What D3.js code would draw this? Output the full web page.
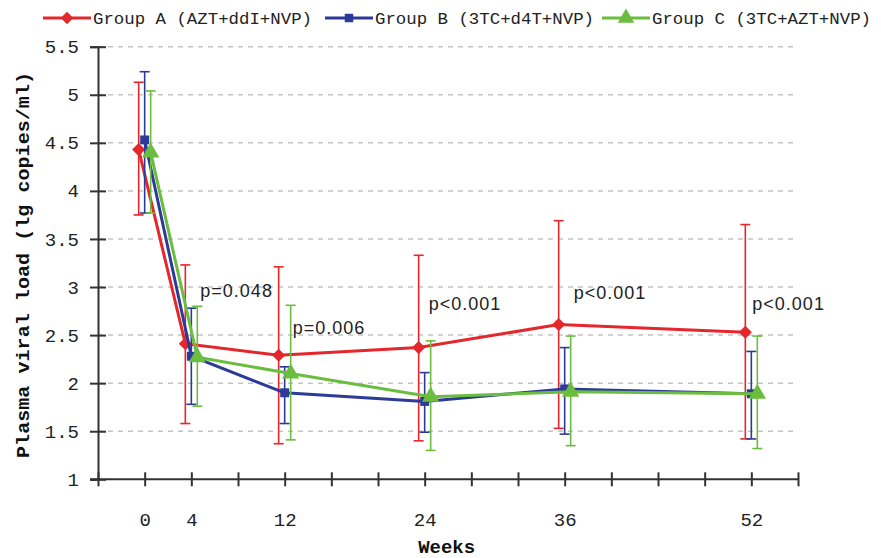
<!DOCTYPE html>
<html>
<head>
<meta charset="utf-8">
<script src="https://cdn.jsdelivr.net/npm/d3@7"></script>
<style>
  body { margin: 0; background: #fff; }
  svg { display: block; }
  .mono { font-family: "Liberation Mono", "DejaVu Sans Mono", monospace; }
</style>
</head>
<body>
<svg id="chart" width="881" height="558"></svg>
<script>
'use strict';

// weeks of follow-up
const weeks = [0, 4, 12, 24, 36, 52];
const weekLabels = [0, 4, 12, 24, 36, 52];

// group means and error bar ends (lg copies/ml)
const groupAMean = [4.43, 2.41, 2.29, 2.37, 2.61, 2.53];
const groupAHigh = [5.13, 3.23, 3.21, 3.33, 3.69, 3.65];
const groupALow  = [3.75, 1.58, 1.37, 1.40, 1.53, 1.42];

const groupBMean = [4.53, 2.28, 1.90, 1.81, 1.94, 1.89];
const groupBHigh = [5.24, 2.78, 2.17, 2.11, 2.37, 2.33];
const groupBLow  = [3.77, 1.78, 1.58, 1.49, 1.47, 1.42];

const groupCMean = [4.40, 2.27, 2.10, 1.86, 1.91, 1.89];
const groupCHigh = [5.04, 2.80, 2.81, 2.44, 2.49, 2.49];
const groupCLow  = [3.77, 1.76, 1.41, 1.30, 1.35, 1.32];

const groupNames = ["Group A (AZT+ddI+NVP)", "Group B (3TC+d4T+NVP)", "Group C (3TC+AZT+NVP)"];

// p values shown above each time point
const pWeeks  = [4, 12, 24, 36, 52];
const pLabels = ["p=0.048", "p=0.006", "p<0.001", "p<0.001", "p<0.001"];
const pLevels = [2.90, 2.51, 2.76, 2.88, 2.76];

const yTicks = [1, 1.5, 2, 2.5, 3, 3.5, 4, 4.5, 5, 5.5];

const svg = d3.select("#chart");

const x = d3.scaleLinear().domain([-4, 56]).range([98, 798]);
const y = d3.scaleLinear().domain([1, 5.5]).range([479.3, 46.7]);

const series = [
    {name: groupNames[0], mean: groupAMean, hi: groupAHigh, lo: groupALow, color: "#e5262b", shift: -6, marker: d3.symbolDiamond2, msize: 110},
    {name: groupNames[1], mean: groupBMean, hi: groupBHigh, lo: groupBLow, color: "#2c3b98", shift: 0, marker: d3.symbolSquare, msize: 80},
    {name: groupNames[2], mean: groupCMean, hi: groupCHigh, lo: groupCLow, color: "#6bbd3f", shift: 6, marker: d3.symbolTriangle, msize: 130}
];

// dashed grid
svg.append("g")
    .selectAll("line")
    .data(yTicks.filter(d => d > 1))
    .enter().append("line")
    .attr("x1", x(-4)).attr("x2", x(56))
    .attr("y1", d => y(d)).attr("y2", d => y(d))
    .attr("stroke", "#c4c4c4")
    .attr("stroke-width", 1.5)
    .attr("stroke-dasharray", "5,5");

// y axis
const yAxis = svg.append("g")
    .attr("transform", "translate(" + x(-4) + ",0)")
    .call(d3.axisLeft(y).tickValues(yTicks).tickSize(8).tickPadding(12)
        .tickFormat(d => d3.format("~g")(d)));
yAxis.select(".domain").attr("stroke", "#333").attr("stroke-width", 2);
yAxis.selectAll(".tick line").attr("x1", -8).attr("x2", 8).attr("stroke", "#333").attr("stroke-width", 2);
yAxis.selectAll(".tick text")
    .attr("class", "mono")
    .attr("x", -19)
    .style("font-size", "19px")
    .attr("fill", "#222");

// x axis, a tick every 4 weeks, labels only at the visits
const xAxis = svg.append("g")
    .attr("transform", "translate(0," + y(1) + ")")
    .call(d3.axisBottom(x).tickValues(d3.range(-4, 57, 4)).tickSize(7).tickPadding(0)
        .tickFormat(d => weekLabels.includes(d) ? d : ""));
xAxis.select(".domain").attr("d", "M90,0H" + x(56)).attr("stroke", "#333").attr("stroke-width", 2);
xAxis.selectAll(".tick line").attr("y1", -7).attr("y2", 7).attr("stroke", "#333").attr("stroke-width", 2);
xAxis.selectAll(".tick text")
    .attr("class", "mono")
    .attr("y", 33)
    .style("font-size", "19px")
    .attr("fill", "#222");

// axis titles
svg.append("text")
    .attr("class", "mono")
    .attr("x", x(24) + 22).attr("y", 553)
    .attr("text-anchor", "middle")
    .style("font-size", "19px").style("font-weight", "bold")
    .attr("fill", "#111")
    .text("Weeks");

svg.append("text")
    .attr("class", "mono")
    .attr("transform", "translate(29,265) rotate(-90)")
    .attr("text-anchor", "middle")
    .attr("textLength", 386).attr("lengthAdjust", "spacingAndGlyphs")
    .style("font-size", "19px").style("font-weight", "bold")
    .attr("fill", "#111")
    .text("Plasma viral load (lg copies/ml)");

// error bars, lines, markers
series.forEach(function (s) {
    const g = svg.append("g");
    const px = i => x(weeks[i]) + s.shift;

    const bars = g.selectAll("g.err")
        .data(weeks.map((w, i) => i))
        .enter().append("g").attr("class", "err")
        .attr("stroke", s.color).attr("stroke-width", 1.6);
    bars.append("line")
        .attr("x1", px).attr("x2", px)
        .attr("y1", i => y(s.hi[i])).attr("y2", i => y(s.lo[i]));
    bars.append("line")
        .attr("x1", i => px(i) - 5).attr("x2", i => px(i) + 5)
        .attr("y1", i => y(s.hi[i])).attr("y2", i => y(s.hi[i]));
    bars.append("line")
        .attr("x1", i => px(i) - 5).attr("x2", i => px(i) + 5)
        .attr("y1", i => y(s.lo[i])).attr("y2", i => y(s.lo[i]));

    const line = d3.line()
        .x((d, i) => px(i))
        .y(d => y(d));
    g.append("path")
        .datum(s.mean)
        .attr("d", line)
        .attr("fill", "none")
        .attr("stroke", s.color)
        .attr("stroke-width", 3);

    g.selectAll("path.mk")
        .data(s.mean)
        .enter().append("path").attr("class", "mk")
        .attr("d", d3.symbol().type(s.marker).size(s.msize))
        .attr("transform", (d, i) => "translate(" + px(i) + "," + y(d) + ")")
        .attr("fill", s.color);
});

// p-value annotations
const pShift = [9, 8, 4, 9, 1];
svg.append("g")
    .selectAll("text")
    .data(pLabels)
    .enter().append("text")
    .attr("x", (d, i) => x(pWeeks[i]) + pShift[i])
    .attr("y", (d, i) => y(pLevels[i]))
    .style("font-family", "'Liberation Sans', Arial, sans-serif")
    .style("font-size", "18px")
    .style("letter-spacing", "1px")
    .attr("fill", "#222")
    .text(d => d);

// legend across the top
const legendX = [43, 325, 602];
const legend = svg.append("g");
series.forEach(function (s, i) {
    const lx = legendX[i];
    legend.append("line")
        .attr("x1", lx).attr("x2", lx + 48)
        .attr("y1", 18).attr("y2", 18)
        .attr("stroke", s.color).attr("stroke-width", 3);
    legend.append("path")
        .attr("d", d3.symbol().type(s.marker).size(s.msize * 0.9))
        .attr("transform", "translate(" + (lx + 24) + ",18)")
        .attr("fill", s.color);
    legend.append("text")
        .attr("class", "mono")
        .attr("x", lx + 50).attr("y", 24)
        .attr("textLength", 219).attr("lengthAdjust", "spacingAndGlyphs")
        .style("font-size", "17px")
        .attr("fill", "#222")
        .text(s.name);
});
</script>
</body>
</html>
